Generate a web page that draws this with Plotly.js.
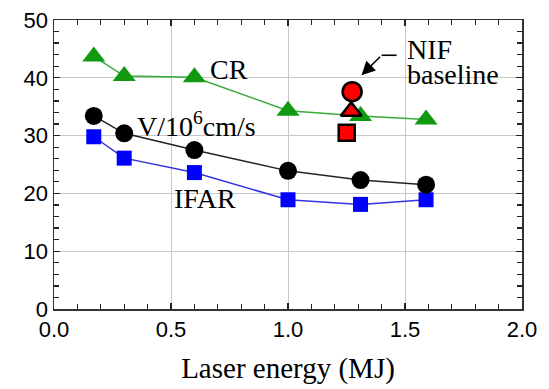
<!DOCTYPE html>
<html>
<head>
<meta charset="utf-8">
<script src="https://cdn.plot.ly/plotly-3.0.1.min.js"></script>
<style>html,body{margin:0;padding:0;background:#fff;}#chart{width:549px;height:389px;}</style>
</head>
<body>
<div id="chart"></div>
<script>
// Data
const energy = [0.17, 0.30, 0.60, 1.0, 1.31, 1.59];
const crValues = [43.7, 40.3, 40.1, 34.3, 33.4, 32.8];
const velocityValues = [33.4, 30.4, 27.5, 23.9, 22.3, 21.5];
const ifarValues = [29.8, 26.1, 23.6, 18.9, 18.1, 18.9];
const nifCircle = {x: [1.274], y: [37.6]};
const nifTriangle = {x: [1.27], y: [34.2]};
const nifSquare = {x: [1.251], y: [30.5]};
const xTickStep = 0.5;
const xMinorStep = 0.1;
const yTickStep = 10;
const yMinorStep = 2;

const serif = 'Liberation Serif, Times New Roman, serif';
const sans = 'Liberation Sans, Arial, Helvetica, sans-serif';

const traces = [
  {x: energy, y: crValues, mode: 'lines+markers', type: 'scatter',
   line: {color: '#3aaa3a', width: 1.5},
   marker: {symbol: 'triangle-up', size: 20, color: '#119a11'}},
  {x: energy, y: ifarValues, mode: 'lines+markers', type: 'scatter',
   line: {color: '#3333e0', width: 1.5},
   marker: {symbol: 'square', size: 15, color: '#0000ff'}},
  {x: energy, y: velocityValues, mode: 'lines+markers', type: 'scatter',
   line: {color: '#222222', width: 1.5},
   marker: {symbol: 'circle', size: 18, color: '#000000'}},
  {x: nifCircle.x, y: nifCircle.y, mode: 'markers', type: 'scatter',
   marker: {symbol: 'circle', size: 19, color: '#ff0000', line: {color: '#000', width: 2.5}}},
  {x: nifTriangle.x, y: nifTriangle.y, mode: 'markers', type: 'scatter',
   marker: {symbol: 'triangle-up', size: 18, color: '#ff0000', line: {color: '#000', width: 2.5}}},
  {x: nifSquare.x, y: nifSquare.y, mode: 'markers', type: 'scatter',
   marker: {symbol: 'square', size: 16, color: '#ff0000', line: {color: '#000', width: 2.5}}}
];

const layout = {
  width: 549, height: 389,
  margin: {l: 54, r: 27, t: 20, b: 80},
  showlegend: false,
  xaxis: {
    range: [0, 2], dtick: xTickStep, tickformat: '.1f',
    showline: true, linecolor: '#333', linewidth: 1.5, mirror: 'allticks',
    ticks: 'inside', ticklen: 6, tickwidth: 1.3, tickcolor: '#222',
    showgrid: true, gridcolor: '#c8c8c8', gridwidth: 1, zeroline: false,
    tickfont: {family: sans, size: 22, color: '#000'},
    minor: {dtick: xMinorStep, ticks: 'inside', ticklen: 5, tickwidth: 1.3, tickcolor: '#222'},
    title: {text: 'Laser energy (MJ)', font: {family: serif, size: 29, color: '#000'}, standoff: 17}
  },
  yaxis: {
    range: [0, 50], dtick: yTickStep,
    showline: true, linecolor: '#333', linewidth: 1.5, mirror: 'allticks',
    ticks: 'inside', ticklen: 6, tickwidth: 1.3, tickcolor: '#222',
    showgrid: true, gridcolor: '#c8c8c8', gridwidth: 1, zeroline: false,
    tickfont: {family: sans, size: 22, color: '#000'},
    minor: {dtick: yMinorStep, ticks: 'inside', ticklen: 5, tickwidth: 1.3, tickcolor: '#222'}
  },
  annotations: [
    {x: 0.747, y: 41.5, xref: 'x', yref: 'y', text: 'CR', showarrow: false,
     font: {family: serif, size: 28, color: '#000'}},
    {x: 0.608, y: 32, xref: 'x', yref: 'y', text: 'V/10<sup>6</sup>cm/s', showarrow: false,
     font: {family: serif, size: 28, color: '#000'}},
    {x: 0.644, y: 19.05, xref: 'x', yref: 'y', text: 'IFAR', showarrow: false,
     font: {family: serif, size: 28, color: '#000'}},
    {x: 1.5, y: 44.9, xref: 'x', yref: 'y', text: 'NIF', showarrow: false, xanchor: 'left',
     font: {family: serif, size: 28, color: '#000'}},
    {x: 1.5, y: 40.6, xref: 'x', yref: 'y', text: 'baseline', showarrow: false, xanchor: 'left',
     font: {family: serif, size: 28, color: '#000'}},
    {x: 1.314, y: 40.45, xref: 'x', yref: 'y', axref: 'x', ayref: 'y', ax: 1.40, ay: 43.9,
     text: '', showarrow: true, arrowhead: 2, arrowsize: 1.7, arrowwidth: 1.6, arrowcolor: '#000'}
  ],
  shapes: [
    {type: 'line', xref: 'x', yref: 'y', x0: 1.40, y0: 43.9, x1: 1.464, y1: 43.9,
     line: {color: '#000', width: 1.6}}
  ]
};

Plotly.newPlot('chart', traces, layout, {displayModeBar: false, staticPlot: true});
</script>
</body>
</html>
